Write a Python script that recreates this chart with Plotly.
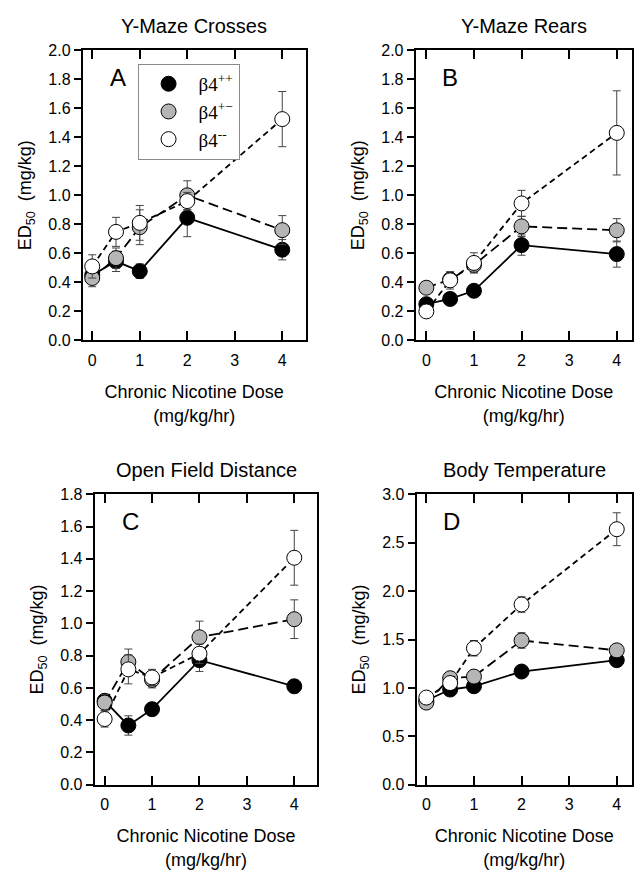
import plotly.graph_objects as go

doses = [0, 0.5, 1, 2, 4]
series_names = ["β4<sup>++</sup>", "β4<sup>+−</sup>", "β4<sup>--</sup>"]

panel_titles = ["Y-Maze Crosses", "Y-Maze Rears", "Open Field Distance", "Body Temperature"]
panel_letters = ["A", "B", "C", "D"]

# Panel A: Y-Maze Crosses
A_wt = [0.45, 0.545, 0.477, 0.845, 0.625]
A_wt_err = [0.05, 0.07, 0.05, 0.13, 0.07]
A_het = [0.43, 0.567, 0.78, 1.0, 0.76]
A_het_err = [0.06, 0.07, 0.12, 0.10, 0.10]
A_ko = [0.51, 0.748, 0.81, 0.96, 1.525]
A_ko_err = [0.08, 0.10, 0.12, 0.06, 0.19]

# Panel B: Y-Maze Rears
B_wt = [0.25, 0.286, 0.342, 0.657, 0.595]
B_wt_err = [0.03, 0.04, 0.03, 0.07, 0.09]
B_het = [0.363, 0.42, 0.52, 0.786, 0.759]
B_het_err = [0.04, 0.05, 0.05, 0.07, 0.08]
B_ko = [0.20, 0.414, 0.534, 0.944, 1.43]
B_ko_err = [0.03, 0.06, 0.07, 0.09, 0.29]

# Panel C: Open Field Distance
C_wt = [0.52, 0.367, 0.468, 0.772, 0.61]
C_wt_err = [0.04, 0.06, 0.04, 0.07, 0.04]
C_het = [0.509, 0.761, 0.65, 0.914, 1.026]
C_het_err = [0.05, 0.08, 0.05, 0.10, 0.12]
C_ko = [0.407, 0.715, 0.665, 0.812, 1.407]
C_ko_err = [0.05, 0.09, 0.05, 0.06, 0.17]

# Panel D: Body Temperature
D_wt = [0.87, 0.983, 1.017, 1.169, 1.287]
D_wt_err = [0.04, 0.04, 0.04, 0.05, 0.04]
D_het = [0.848, 1.10, 1.117, 1.49, 1.388]
D_het_err = [0.04, 0.04, 0.05, 0.08, 0.05]
D_ko = [0.90, 1.05, 1.41, 1.862, 2.64]
D_ko_err = [0.04, 0.05, 0.08, 0.08, 0.17]

panels = [
    (A_wt, A_wt_err, A_het, A_het_err, A_ko, A_ko_err),
    (B_wt, B_wt_err, B_het, B_het_err, B_ko, B_ko_err),
    (C_wt, C_wt_err, C_het, C_het_err, C_ko, C_ko_err),
    (D_wt, D_wt_err, D_het, D_het_err, D_ko, D_ko_err),
]

y_ranges = [(0, 2.0, 0.2), (0, 2.0, 0.2), (0, 1.8, 0.2), (0, 3.0, 0.5)]
x_ranges = [(-0.2, 4.49), (-0.224, 4.32), (-0.21, 4.49), (-0.203, 4.32)]

W, H = 634, 877
# plot-area pixel boxes (left, right, top, bottom)
boxes = [(83, 306.5, 43, 339), (417, 634, 43, 339), (95, 318.5, 496, 792), (418, 634, 496, 792)]

fills = ["black", "#b5b5b5", "white"]
dashes = ["solid", "10px,5px", "6px,4px"]

FONT = "Liberation Sans, Arial, sans-serif"

fig = go.Figure()
for p, data in enumerate(panels):
    ax = "" if p == 0 else str(p + 1)
    for s in range(3):
        yv = data[2 * s]
        ye = data[2 * s + 1]
        fig.add_trace(go.Scatter(
            x=doses, y=yv,
            error_y=dict(type="data", array=ye, color="#444", thickness=1, width=4),
            mode="lines+markers",
            line=dict(color="black", width=1.8, dash=dashes[s]),
            marker=dict(size=15, color=fills[s], line=dict(color="black", width=1)),
            xaxis="x" + ax, yaxis="y" + ax,
            showlegend=False,
        ))

# legend-only entries (markers only, as in the original key)
for s in range(3):
    fig.add_trace(go.Scatter(
        x=[None], y=[None], mode="markers", name=series_names[s],
        marker=dict(size=15, color=fills[s], line=dict(color="black", width=1)),
        xaxis="x", yaxis="y", showlegend=True,
    ))

layout = dict(
    width=W, height=H,
    margin=dict(l=0, r=0, t=0, b=0),
    paper_bgcolor="white", plot_bgcolor="white",
    font=dict(family=FONT, size=15, color="black"),
    showlegend=True,
    legend=dict(
        x=138 / W, y=1 - 57 / H, xanchor="left", yanchor="top",
        bordercolor="#8a8a8a", borderwidth=1, bgcolor="white",
        font=dict(family="Liberation Serif, Times New Roman, serif", size=19),
        itemwidth=50, tracegroupgap=0,
    ),
    annotations=[],
)

for p in range(4):
    l, r, t, b = boxes[p]
    ax = "" if p == 0 else str(p + 1)
    lo, hi, dt = y_ranges[p]
    layout["xaxis" + ax] = dict(
        domain=[l / W, r / W], anchor="y" + ax,
        range=list(x_ranges[p]), tickvals=[0, 1, 2, 3, 4],
        ticks="inside", ticklen=9, tickwidth=1.5, tickcolor="black",
        showline=True, linecolor="black", linewidth=2, mirror="ticks",
        showgrid=False, zeroline=False,
        tickfont=dict(size=16), ticklabelstandoff=4,
        title=dict(text="Chronic Nicotine Dose<br>(mg/kg/hr)", font=dict(size=18), standoff=18),
    )
    layout["yaxis" + ax] = dict(
        domain=[1 - b / H, 1 - t / H], anchor="x" + ax,
        range=[lo, hi], dtick=dt, tick0=0, tickformat=".1f",
        ticks="outside", ticklen=7, tickwidth=1.5, tickcolor="black",
        showline=True, linecolor="black", linewidth=2, mirror=True,
        showgrid=False, zeroline=False,
        tickfont=dict(size=16),
        title=dict(text="ED<sub>50</sub>  (mg/kg)", font=dict(size=18), standoff=12),
    )
    # right-hand inside ticks
    layout["yaxis" + str(p + 5)] = dict(
        overlaying="y" + ax, side="right", anchor="x" + ax,
        range=[lo, hi], dtick=dt, tick0=0,
        ticks="inside", ticklen=7, tickwidth=1.5, tickcolor="black",
        showticklabels=False, showline=False, showgrid=False, zeroline=False,
    )
    layout["annotations"].append(dict(
        text=panel_titles[p], xref="x" + ax + " domain", yref="paper",
        x=0.5, y=1 - (t - 25) / H, xanchor="center", yanchor="middle",
        showarrow=False, font=dict(size=20),
    ))
    layout["annotations"].append(dict(
        text=panel_letters[p], xref="x" + ax + " domain", yref="y" + ax + " domain",
        x=0.16, y=0.905, xanchor="center", yanchor="middle",
        showarrow=False, font=dict(size=24),
    ))

fig.update_layout(**layout)
fig.write_html("out.html")
